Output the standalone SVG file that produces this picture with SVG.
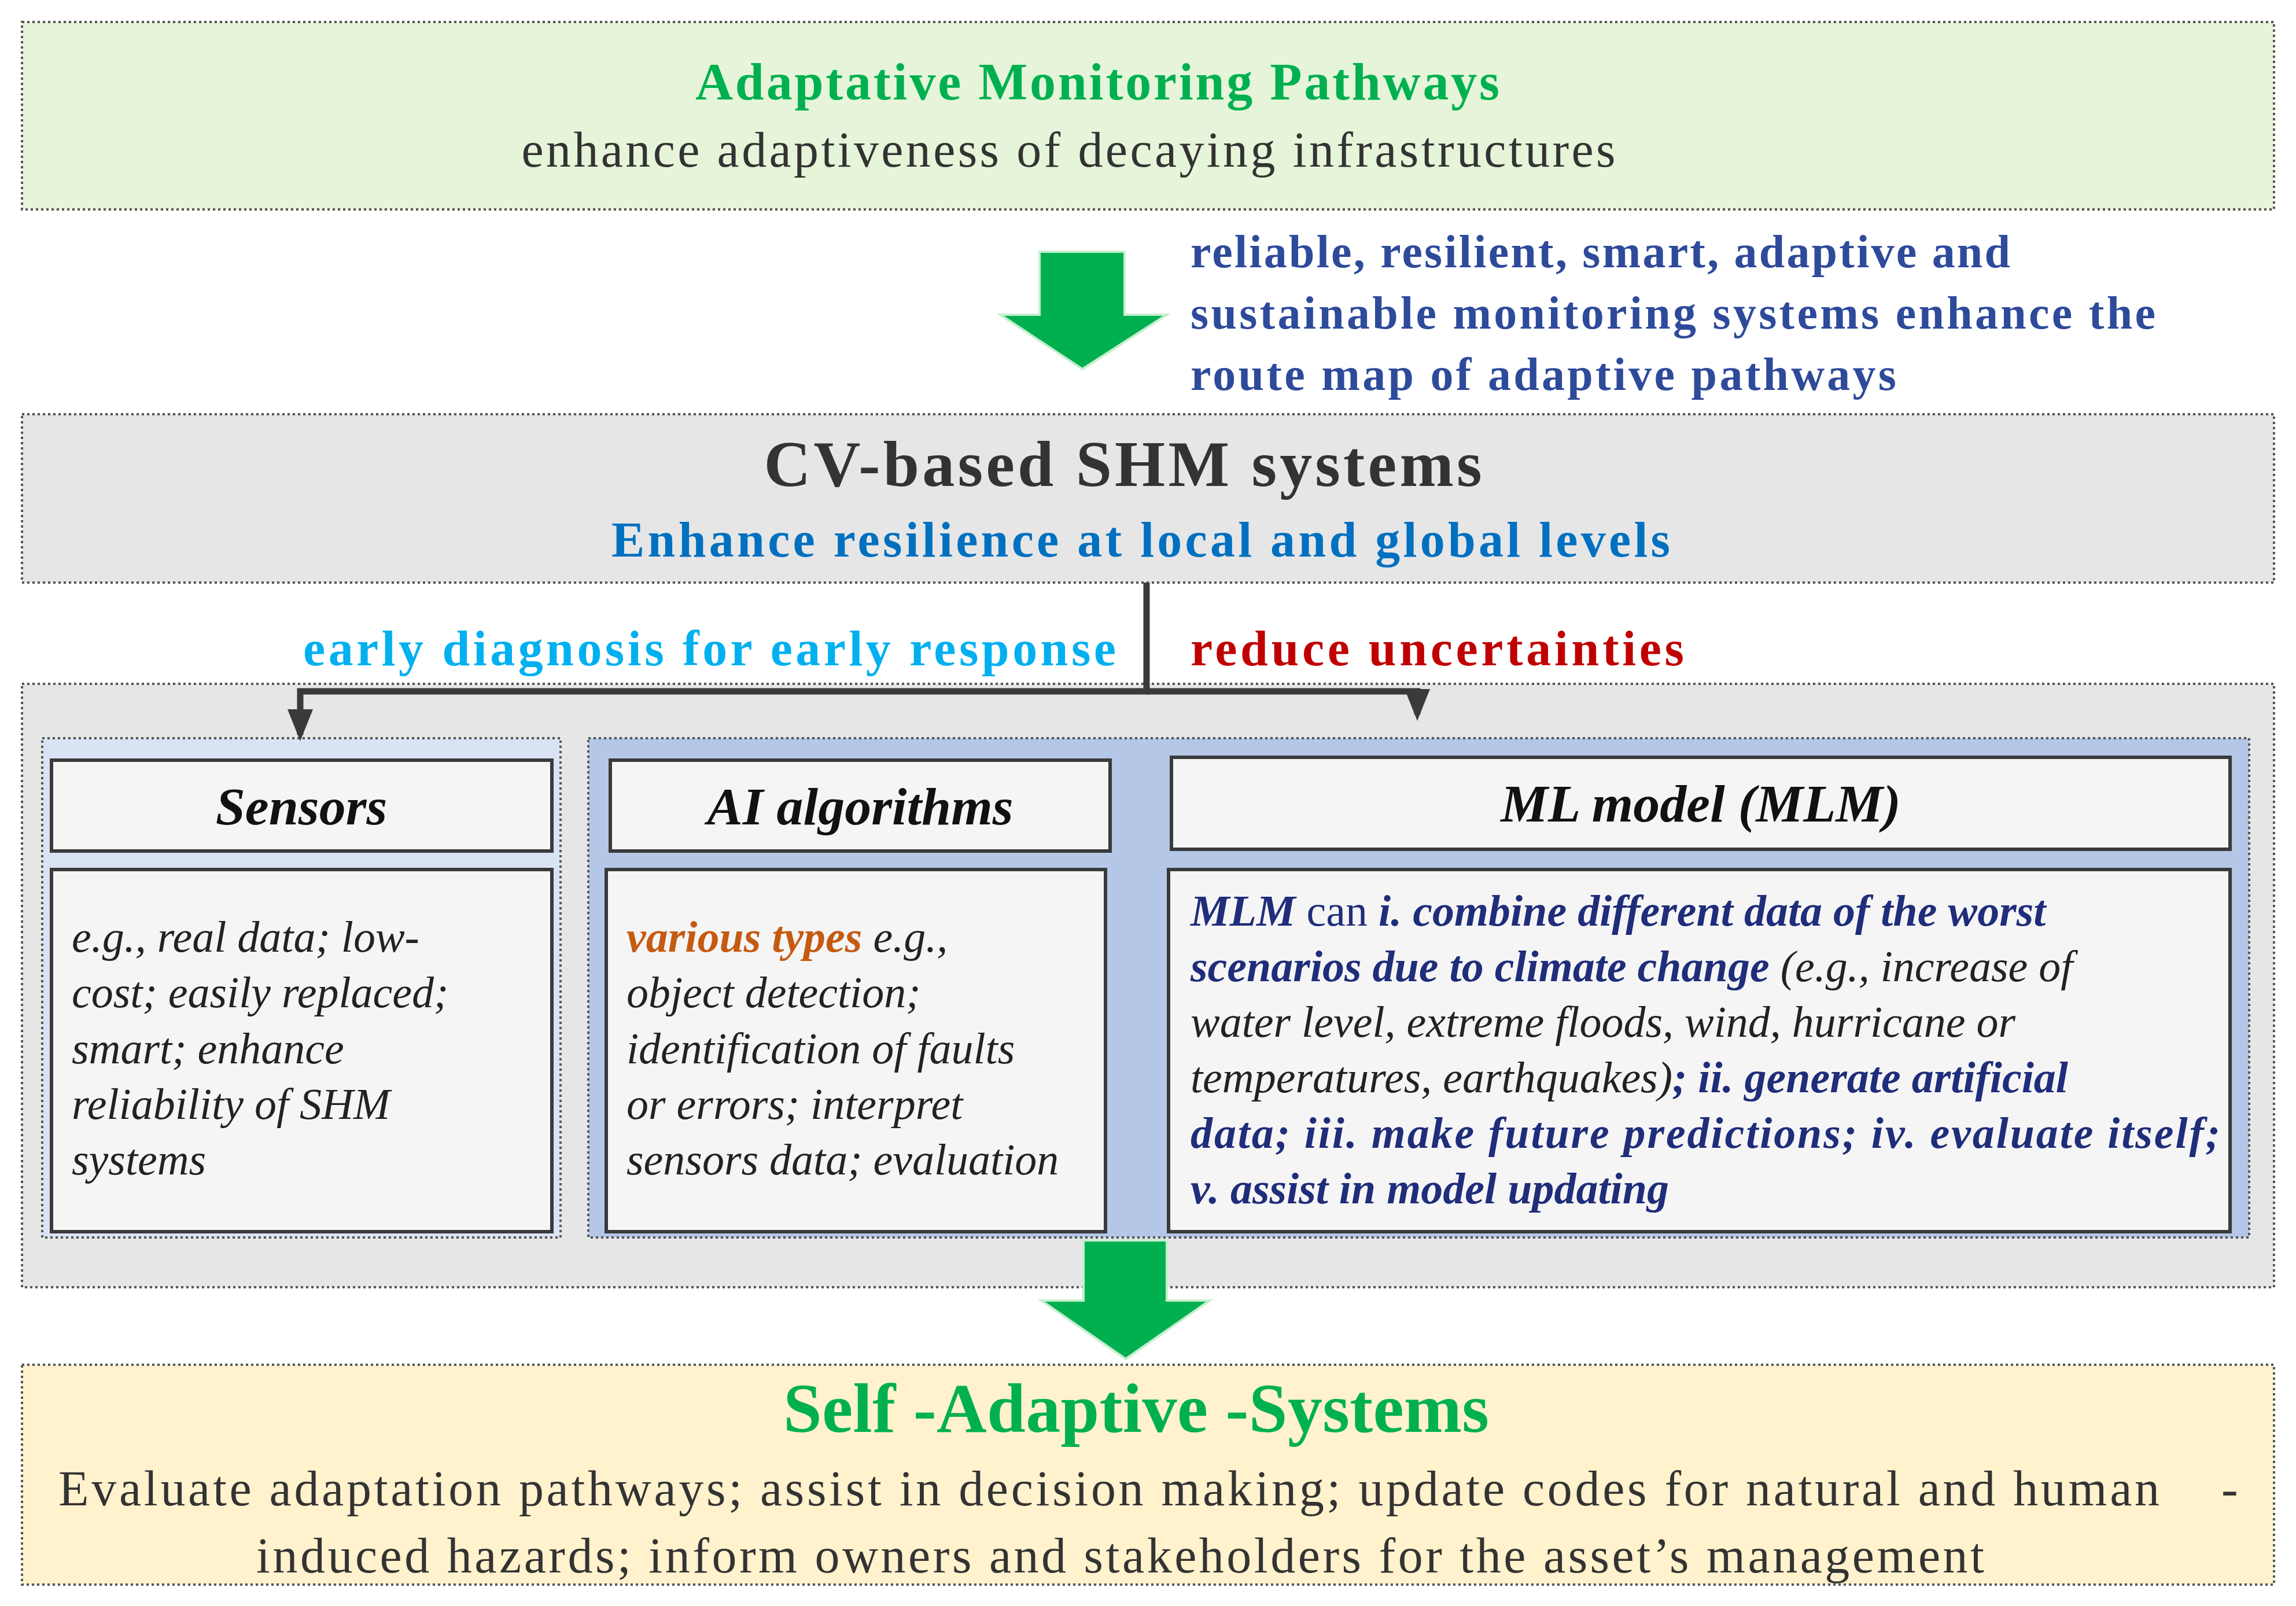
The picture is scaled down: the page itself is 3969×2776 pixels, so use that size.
<svg xmlns="http://www.w3.org/2000/svg" width="3969" height="2776" viewBox="0 0 3969 2776">
<style>
.box{stroke:#555;stroke-width:4;stroke-dasharray:4 5}
.inner{fill:#f5f5f5;stroke:#3a3a3a;stroke-width:6}
.serif{font-family:"Liberation Serif","Times New Roman",serif}
.hdr{font-family:"Liberation Serif",serif;font-weight:bold;font-style:italic;font-size:92px;fill:#111;text-anchor:middle}
.body{font-family:"Liberation Serif",serif;font-style:italic;font-size:76px;fill:#222}
.nv{fill:#1f2d7a;font-weight:bold}
.conn{fill:none;stroke:#3a3a3a;stroke-width:11}
.garrow{fill:#00b050;stroke:#c6efce;stroke-width:4}
</style>
<defs>
<marker id="ah" markerWidth="5" markerHeight="4" refX="4" refY="2" orient="auto" markerUnits="strokeWidth"><path d="M0,0 L5,2 L0,4 Z" fill="#3a3a3a"/></marker>
</defs>
<rect width="3969" height="2776" fill="#fff"/>

<g id="top">
<rect class="box" x="38" y="38" width="3893" height="324" fill="#e6f5d9"/>
<text class="serif" x="1897" y="172" font-size="90" font-weight="bold" fill="#00b050" text-anchor="middle" textLength="1390">Adaptative Monitoring Pathways</text>
<text class="serif" x="1847" y="288" font-size="86" fill="#333" text-anchor="middle" textLength="1891">enhance adaptiveness of decaying infrastructures</text>
</g>

<g id="arrow1">
<path class="garrow" d="M1797,435 H1944 V544 H2017 L1871,638 L1729,544 H1797 Z"/>
</g>
<g id="benefits" class="serif" font-size="80" font-weight="bold" fill="#2e4a9a">
<text x="2058" y="462" textLength="1417">reliable, resilient, smart, adaptive and</text>
<text x="2058" y="568" textLength="1668">sustainable monitoring systems enhance the</text>
<text x="2058" y="674" textLength="1220">route map of adaptive pathways</text>
</g>

<g id="cv">
<rect class="box" x="38" y="716" width="3893" height="291" fill="#e6e6e6"/>
<text class="serif" x="1941" y="840" font-size="112" font-weight="bold" fill="#333" text-anchor="middle" textLength="1241">CV-based SHM systems</text>
<text class="serif" x="1972" y="962" font-size="86" font-weight="bold" fill="#0070c0" text-anchor="middle" textLength="1830">Enhance resilience at local and global levels</text>
</g>

<g id="labels" class="serif" font-size="86" font-weight="bold">
<text x="524" y="1150" fill="#00b0f0" textLength="1405">early diagnosis for early response</text>
<text x="2058" y="1150" fill="#c00000" textLength="853">reduce uncertainties</text>
</g>

<g id="container">
<rect class="box" x="38" y="1182" width="3893" height="1043" fill="#e6e6e6"/>
<rect class="box" x="73" y="1276" width="896" height="863" fill="#dae3f3"/>
<rect class="box" x="1017" y="1276" width="2871" height="863" fill="#b4c7e7"/>
</g>

<g id="connectors">
<path class="conn" d="M1982,1007 V1195 H519 V1270" marker-end="url(#ah)"/>
<path class="conn" d="M1982,1195 H2450 V1235" marker-end="url(#ah)"/>
</g>

<g id="sensors">
<rect class="inner" x="89" y="1314" width="865" height="157"/>
<text class="hdr" x="521" y="1425">Sensors</text>
<rect class="inner" x="89" y="1503" width="865" height="626"/>
<text class="body" x="124" y="1645">e.g., real data; low-</text>
<text class="body" x="124" y="1741">cost; easily replaced;</text>
<text class="body" x="124" y="1838">smart; enhance</text>
<text class="body" x="124" y="1934">reliability of SHM</text>
<text class="body" x="124" y="2030">systems</text>
</g>

<g id="ai">
<rect class="inner" x="1055" y="1314" width="864" height="157"/>
<text class="hdr" x="1487" y="1425">AI algorithms</text>
<rect class="inner" x="1048" y="1503" width="863" height="626"/>
<text class="body" x="1083" y="1645"><tspan fill="#c55a11" font-weight="bold">various types</tspan> e.g.,</text>
<text class="body" x="1083" y="1741">object detection;</text>
<text class="body" x="1083" y="1838">identification of faults</text>
<text class="body" x="1083" y="1934">or errors; interpret</text>
<text class="body" x="1083" y="2030">sensors data; evaluation</text>
</g>

<g id="ml">
<rect class="inner" x="2025" y="1309" width="1830" height="159"/>
<text class="hdr" x="2940" y="1420">ML model (MLM)</text>
<rect class="inner" x="2020" y="1503" width="1835" height="626"/>
<text class="body" x="2058" y="1600"><tspan class="nv">MLM</tspan><tspan font-style="normal" fill="#1f2d7a"> can </tspan><tspan class="nv">i. combine different data of the worst</tspan></text>
<text class="body" x="2058" y="1696"><tspan class="nv">scenarios due to climate change</tspan> (e.g., increase of</text>
<text class="body" x="2058" y="1792">water level, extreme floods, wind, hurricane or</text>
<text class="body" x="2058" y="1888">temperatures, earthquakes)<tspan class="nv">; ii. generate artificial</tspan></text>
<text class="body nv" x="2058" y="1984" textLength="1780">data; iii. make future predictions; iv. evaluate itself;</text>
<text class="body nv" x="2058" y="2080">v. assist in model updating</text>
</g>

<g id="arrow2">
<path class="garrow" d="M1873,2144 H2017 V2248 H2091 L1946,2349 L1800,2248 H1873 Z"/>
</g>

<g id="selfadaptive">
<rect class="box" x="38" y="2359" width="3893" height="380" fill="#fff2cc"/>
<text class="serif" x="1964" y="2475" font-size="120" font-weight="bold" fill="#00b050" text-anchor="middle" textLength="1220">Self -Adaptive -Systems</text>
<text class="serif" x="101" y="2602" font-size="86" fill="#333" textLength="3632">Evaluate adaptation pathways; assist in decision making; update codes for natural and human</text>
<text class="serif" x="3840" y="2602" font-size="86" fill="#333">-</text>
<text class="serif" x="443" y="2718" font-size="86" fill="#333" textLength="2987">induced hazards; inform owners and stakeholders for the asset’s management</text>
</g>
</svg>
